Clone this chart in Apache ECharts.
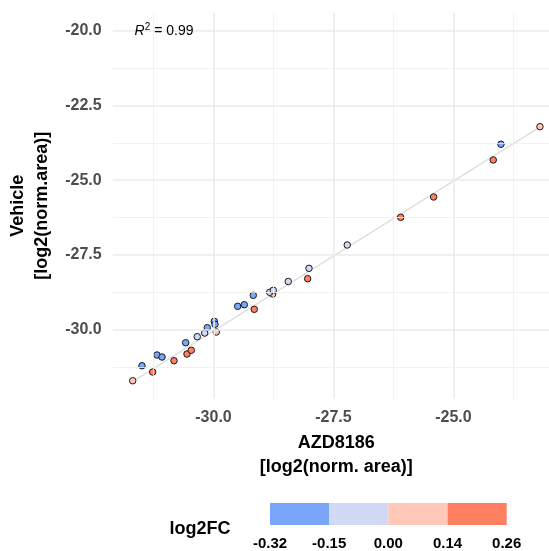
<!DOCTYPE html>
<html>
<head>
<meta charset="utf-8">
<script src="https://cdn.jsdelivr.net/npm/echarts@6/dist/echarts.min.js"></script>
<style>
html,body{margin:0;padding:0;background:#fff;}
#chart{width:549px;height:551px;}
</style>
</head>
<body>
<div id="chart"></div>
<script>
// ---- data ----
const azd8186 = [-31.683,-31.49,-31.267,-31.177,-31.073,-30.823,-30.579,-30.552,-30.463,-30.338,-30.183,-30.129,-29.983,-29.969,-29.942,-29.496,-29.358,-29.171,-29.150,-28.767,-28.829,-28.754,-28.442,-28.010,-28.038,-27.213,-26.100,-25.413,-24.171,-24.010,-23.198];
const vehicle = [-31.706,-31.204,-31.415,-30.846,-30.913,-31.037,-30.435,-30.813,-30.689,-30.234,-30.110,-29.933,-29.719,-29.819,-30.077,-29.217,-29.164,-28.850,-29.318,-28.806,-28.749,-28.682,-28.388,-27.947,-28.294,-27.167,-26.241,-25.562,-24.324,-23.799,-23.211];
const log2fc = [0.06,-0.22,0.21,-0.20,-0.18,0.19,-0.24,0.20,0.22,-0.08,-0.05,-0.19,-0.27,-0.21,0.09,-0.20,-0.17,-0.23,0.18,0.05,-0.10,-0.06,-0.04,-0.09,0.23,-0.03,0.20,0.17,0.24,-0.16,0.10];
const fitX = [-31.683, -23.198];
const fitY = [-31.73, -23.22];
const r2Point = [-31.03, -20];
const xTicks = [-30, -27.5, -25];
const yTicks = [-30, -27.5, -25, -22.5, -20];
const xMinor = [-31.25, -28.75, -26.25, -23.75];
const yMinor = [-31.25, -28.75, -26.25, -23.75, -21.25];
const legendBreaks = [-0.32, -0.15, 0.00, 0.14, 0.26];
const legendColors = ['#7AA6FA', '#D0D9F5', '#FFC8B9', '#FF8060'];

const FONT = '"Liberation Sans", Arial, sans-serif';
const points = azd8186.map((x, i) => [x, vehicle[i], log2fc[i]]);
const fitData = fitX.map((x, i) => [x, fitY[i]]);

const gridLines = [];
xTicks.forEach(v => gridLines.push({xAxis: v, lineStyle: {color: '#EBEBEB', width: 1.5, type: 'solid'}}));
xMinor.forEach(v => gridLines.push({xAxis: v, lineStyle: {color: '#EFEFEF', width: 0.8, type: 'solid'}}));
yTicks.forEach(v => gridLines.push({yAxis: v, lineStyle: {color: '#EBEBEB', width: 1.5, type: 'solid'}}));
yMinor.forEach(v => gridLines.push({yAxis: v, lineStyle: {color: '#EFEFEF', width: 0.8, type: 'solid'}}));

const pieces = [];
for (let i = 0; i < legendColors.length; i++) {
  pieces.push({min: legendBreaks[i], max: legendBreaks[i + 1], color: legendColors[i]});
}

const legendBarLeft = 270, legendBarWidth = 236.7, legendBarTop = 503;
const graphics = [{
  type: 'text', x: 200, y: 529,
  style: {text: 'log2FC', font: 'bold 18px ' + FONT, fill: '#000', textAlign: 'center', textVerticalAlign: 'middle'}
}];
legendBreaks.forEach((b, i) => {
  graphics.push({
    type: 'text', x: legendBarLeft + i * legendBarWidth / (legendBreaks.length - 1), y: 544,
    style: {text: b.toFixed(2), font: 'bold 15px ' + FONT, fill: '#000', textAlign: 'center', textVerticalAlign: 'middle'}
  });
});

const chart = echarts.init(document.getElementById('chart'), null, {renderer: 'canvas'});
chart.setOption({
  animation: false,
  backgroundColor: '#fff',
  textStyle: {fontFamily: FONT},
  grid: {left: 112.7, top: 13, width: 447.3, height: 385.5, containLabel: false, outerBoundsMode: 'none'},
  xAxis: {
    type: 'value', min: -32.1, max: -22.78,
    axisLine: {show: false}, axisTick: {show: false}, splitLine: {show: false},
    axisLabel: {customValues: xTicks, formatter: v => v.toFixed(1), color: '#4D4D4D', fontWeight: 'bold', fontSize: 16, margin: 11, fontFamily: FONT},
    name: 'AZD8186\n[log2(norm. area)]', nameLocation: 'middle', nameGap: 33,
    nameTextStyle: {color: '#000', fontWeight: 'bold', fontSize: 18, lineHeight: 24, fontFamily: FONT}
  },
  yAxis: {
    type: 'value', min: -32.3, max: -19.41,
    axisLine: {show: false}, axisTick: {show: false}, splitLine: {show: false},
    axisLabel: {customValues: yTicks, formatter: v => v.toFixed(1), color: '#4D4D4D', fontWeight: 'bold', fontSize: 16, margin: 11, fontFamily: FONT},
    name: 'Vehicle\n[log2(norm.area)]', nameLocation: 'middle', nameGap: 54, nameRotate: 90,
    nameTextStyle: {color: '#000', fontWeight: 'bold', fontSize: 18, lineHeight: 24, fontFamily: FONT}
  },
  visualMap: {
    type: 'piecewise', seriesIndex: 2, dimension: 2,
    pieces: pieces, orient: 'horizontal',
    left: legendBarLeft, top: legendBarTop, itemWidth: legendBarWidth / 4, itemHeight: 22, itemGap: 0,
    itemSymbol: 'rect', showLabel: false, padding: 0, selectedMode: false, hoverLink: false
  },
  graphic: graphics,
  series: [
    {
      type: 'line', data: [[-30, -30]], symbol: 'none', lineStyle: {opacity: 0}, silent: true, z: 0,
      markLine: {silent: true, symbol: ['none', 'none'], label: {show: false}, animation: false, data: gridLines}
    },
    {
      type: 'line', data: fitData, symbol: 'none', silent: true, z: 1,
      lineStyle: {color: '#D9D9D9', width: 1.3}
    },
    {
      type: 'scatter', data: points, symbolSize: 6.5, z: 3,
      itemStyle: {borderColor: '#1A1A1A', borderWidth: 1, opacity: 1}
    }
  ]
});

// R² annotation anchored at its data position
const r2Px = chart.convertToPixel({gridIndex: 0}, r2Point);
chart.setOption({
  graphic: graphics.concat([{
    type: 'text', x: r2Px[0], y: r2Px[1], z: 100,
    style: {
      text: '{i|R}{s|2}{n| = 0.99}',
      textAlign: 'center', textVerticalAlign: 'middle',
      rich: {
        i: {fontStyle: 'italic', fontSize: 14, fill: '#000', lineHeight: 17, fontFamily: FONT},
        s: {fontSize: 10, fill: '#000', verticalAlign: 'top', lineHeight: 11, fontFamily: FONT},
        n: {fontSize: 14, fill: '#000', lineHeight: 17, fontFamily: FONT}
      }
    }
  }])
});
</script>
</body>
</html>
